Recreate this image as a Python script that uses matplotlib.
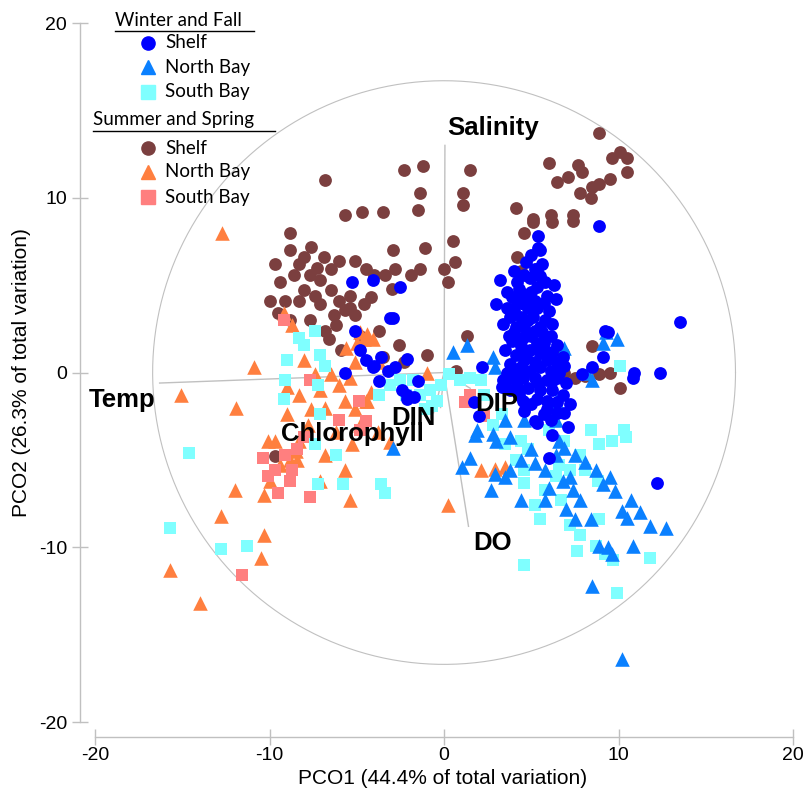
import numpy as np
import matplotlib
matplotlib.use("Agg")
import matplotlib.pyplot as plt
from matplotlib.lines import Line2D

# ---- data (PCO1, PCO2) ----
winter_shelf = [
    (8.9, 8.4), (5.4, 7.1), (5.5, 7.0), (5.2, 5.9), (5.3, 5.9), (3.2, 5.3), (4.2, 5.2), (4.9, 5.4),
    (5.5, 5.5), (5.3, 4.9), (3.9, 4.3), (4.5, 4.5), (5.9, 4.4), (5.7, 4.0), (4.2, 4.0), (4.8, 3.7),
    (5.3, 3.7), (3.8, 3.2), (4.4, 3.2), (5.1, 3.2), (5.8, 3.0), (4.1, 2.6), (4.6, 2.6), (5.5, 2.6),
    (6.1, 2.1), (3.7, 2.1), (4.5, 2.0), (5.0, 2.1), (5.7, 1.7), (4.4, 1.5), (4.9, 1.3), (4.1, 1.0),
    (5.5, 1.1), (6.2, 1.2), (4.6, 0.7), (5.2, 0.6), (5.9, 0.7), (6.5, 0.6), (4.4, 0.3), (4.9, 0.1),
    (5.5, 0.3), (6.1, 0.1), (6.6, 0.0), (3.9, -0.3), (4.5, -0.3), (5.2, -0.3), (5.9, -0.4), (6.5, -0.3),
    (7.0, -0.6), (3.5, -0.6), (4.2, -0.8), (4.8, -0.9), (5.5, -1.0), (6.2, -1.0), (6.5, -1.7), (5.9, -1.6),
    (5.3, -1.5), (6.5, -2.3), (5.2, -2.8), (7.1, -3.1), (6.2, -3.6), (2.2, 0.3), (1.7, -1.7), (2.0, -2.5),
    (3.4, -0.4), (3.3, -0.8), (8.5, 0.3), (9.1, 0.9), (10.9, 0.0), (9.4, 2.3), (13.5, 2.9), (12.4, 0.0),
    (12.2, -6.3), (10.8, -0.3), (9.2, 2.4), (6.0, -4.9), (5.3, -2.9), (5.9, -2.1), (4.7, 6.3), (5.0, 4.6),
    (4.0, 3.6), (5.6, 2.3), (4.3, -1.3), (5.0, -1.8), (6.8, -1.3), (7.9, -0.1), (6.8, 0.9),
    (4.0, 5.8), (4.6, 5.6), (3.6, 4.6), (4.9, 4.2), (5.2, 4.1), (3.6, 3.7), (4.6, 3.9), (6.0, 3.5),
    (3.4, 2.8), (4.8, 3.0), (6.2, 2.8), (3.9, 1.8), (5.3, 1.7), (6.5, 1.6), (3.5, 1.3), (5.8, 1.2),
    (3.8, 0.5), (6.9, 0.4), (3.6, 0.0), (6.2, -0.5), (3.8, -1.0), (4.5, -1.6), (5.7, -2.4), (6.1, -2.7),
    (4.6, -2.2), (7.2, -1.8), (6.9, -2.3), (5.6, 6.2), (5.0, 6.7), (5.4, 7.8), (6.3, 5.0), (3.0, 3.9),
    (6.4, 4.2), (4.3, 4.8), (5.8, 5.2), (4.0, 2.3), (5.2, 2.4), (4.7, 1.0), (5.4, -0.6), (4.1, 0.1),
    (-2.5, 4.9), (-3.1, 3.1), (-4.1, 5.3), (-5.3, 5.2), (-5.1, 2.4), (-4.8, 1.3), (-4.0, 0.4), (-5.7, 0.0),
    (-2.9, 3.1), (-4.5, 0.7), (-4.1, 0.3), (-3.6, 0.9), (-3.2, 0.1), (-2.8, 0.3), (-2.1, 0.8), (-3.7, -0.5),
    (-2.4, -1.0), (-2.1, -1.3), (-1.7, -1.4), (-1.5, -0.5), (-2.1, -1.5),
]
winter_north = [
    (10.2, -16.4), (12.7, -8.9), (11.8, -8.8), (10.2, -7.9), (10.5, -8.3), (8.9, -9.9), (8.5, -12.2),
    (9.4, -10.0), (7.5, -8.4), (7.0, -7.8), (7.8, -7.3), (7.4, -6.7), (6.8, -6.2), (6.0, -6.6), (5.8, -5.6),
    (5.2, -5.2), (4.4, -5.0), (3.5, -6.0), (2.9, -5.8), (2.7, -6.7), (1.5, -4.9), (1.0, -5.4), (1.8, -3.6),
    (3.0, -3.9), (3.8, -3.7), (4.6, -2.7), (6.4, -2.7), (6.6, -3.9), (6.9, -4.3), (7.5, -4.7), (8.1, -5.1),
    (8.7, -5.6), (9.5, -6.0), (9.1, -6.4), (9.8, -6.8), (10.7, -7.3), (11.2, -8.0), (9.3, 2.3), (9.9, 1.9),
    (9.1, 1.7), (6.9, 1.4), (0.5, 1.2), (1.3, 1.6), (2.8, 0.9), (2.9, 0.3), (8.2, 0.0), (8.5, -0.4),
    (1.9, -3.3), (2.8, -3.5), (-2.9, -4.3), (3.8, -5.6), (4.4, -7.3), (6.4, -4.7), (5.8, -7.3), (8.4, -8.4),
    (9.6, -10.4), (10.8, -9.9), (6.4, -1.6), (3.5, -2.7), (7.2, -6.0), (5.0, -4.4),
]
winter_south = [
    (-15.7, -8.9), (-14.6, -4.6), (-12.8, -10.1), (-11.3, -9.9), (-9.0, 0.7), (-9.1, -0.4), (-9.2, -1.5),
    (-8.3, 2.0), (-8.0, 1.6), (-7.4, 2.4), (-7.1, 1.0), (-6.8, 0.4), (-7.2, -0.7), (-7.1, -2.4), (-7.4, -4.1),
    (-6.2, -4.7), (-7.2, -6.4), (-5.8, -6.4), (-3.6, -6.4), (-3.4, -6.9), (-3.7, -1.3), (-1.4, -1.3),
    (-0.8, -1.0), (-0.2, -0.7), (0.3, -0.1), (0.9, -0.4), (-0.7, -1.9), (-1.1, -2.1), (-0.4, -1.6),
    (-1.8, -0.4), (-2.2, -1.3), (1.5, -0.3), (2.1, -0.4), (-2.5, -0.4), (-3.1, -0.7), (2.8, -3.0),
    (3.5, -4.1), (4.1, -5.0), (4.6, -5.6), (4.8, -4.4), (4.6, -6.3), (5.2, -7.6), (5.5, -8.4), (5.8, -6.7),
    (6.4, -5.9), (7.2, -5.6), (7.8, -4.7), (8.1, -5.6), (8.9, -4.1), (10.3, -3.3), (10.4, -3.7), (9.6, -3.9),
    (10.1, 0.4), (8.8, -6.2), (8.9, -8.4), (8.7, -9.9), (9.2, -10.4), (9.7, -10.7), (9.9, -12.6),
    (11.8, -10.6), (7.8, -9.3), (7.2, -8.7), (7.6, -10.2), (4.6, -11.0), (6.6, -5.3), (6.0, -3.3),
    (4.4, -3.9), (6.9, -3.9), (8.4, -3.3), (4.0, -0.3), (2.3, -1.3), (3.3, -2.4), (6.7, -7.3),
]
summer_shelf = [
    (-6.8, 11.0), (-8.8, 8.0), (-5.7, 9.0), (-4.7, 9.2), (-3.5, 9.2), (-2.3, 11.6), (-1.2, 11.8),
    (-1.4, 10.3), (-1.5, 9.3), (-9.7, 6.2), (-8.8, 7.0), (-8.3, 6.2), (-7.7, 5.6), (-9.1, 4.1), (-8.3, 4.1),
    (-7.1, 5.3), (-6.5, 5.9), (-6.0, 6.4), (-5.1, 6.4), (-4.5, 5.9), (-4.0, 5.6), (-3.4, 5.6), (-2.8, 5.9),
    (-1.9, 5.6), (-1.4, 5.9), (-5.4, 4.4), (-5.7, 3.6), (-6.2, 2.7), (-6.8, 2.4), (-4.8, 2.1), (-3.7, 2.4),
    (-7.7, 3.0), (-7.1, 3.9), (-8.8, 3.0), (-8.0, 4.7), (-7.4, 4.4), (-6.5, 4.7), (-6.0, 4.1), (-5.1, 3.3),
    (-5.4, 3.7), (-3.5, 0.9), (-2.6, 1.6), (-1.0, 1.0), (-2.3, 0.6), (-10.0, 4.1), (-9.4, 5.2), (-8.0, 6.6),
    (-6.9, 6.6), (-7.6, 7.2), (0.0, 5.9), (0.5, 7.5), (0.6, 6.3), (0.2, 5.2), (1.3, 2.1), (0.7, 0.1),
    (1.5, 11.6), (1.1, 10.3), (1.1, 9.6), (4.1, 9.4), (5.1, 8.8), (6.1, 9.0), (6.0, 12.0), (6.5, 10.9),
    (7.1, 11.2), (7.7, 11.9), (7.9, 11.5), (7.8, 10.3), (8.4, 10.0), (8.5, 10.6), (7.4, 9.0), (8.9, 13.7),
    (9.6, 12.3), (10.1, 12.6), (10.5, 12.3), (10.5, 11.5), (9.5, 11.1), (8.9, 10.8), (4.6, 8.0), (4.2, 6.6),
    (4.4, 5.8), (5.1, 8.6), (6.2, 8.6), (7.4, 8.7), (8.5, 1.5), (6.8, 1.1), (8.9, -0.1), (9.5, 0.0),
    (10.1, -0.9), (6.9, 0.0), (7.5, -0.3), (8.1, -0.2), (-9.7, -4.8),
    (-7.3, 6.0), (-8.6, 5.6), (-9.5, 3.4), (-6.3, 3.3), (-4.2, 4.3), (-3.0, 4.8), (-4.6, 3.9),
    (-6.6, 1.9), (-5.9, 1.3), (-2.9, 7.0), (-1.1, 7.1),
]
summer_north = [
    (-12.7, 8.0), (-15.1, -1.3), (-15.7, -11.3), (-14.0, -13.2), (-12.8, -8.2), (-11.9, -2.0), (-12.0, -6.7),
    (-10.9, 0.3), (-10.3, -7.0), (-10.0, -6.2), (-10.3, -9.3), (-10.5, -10.6), (-9.2, 3.4), (-8.7, 2.7),
    (-9.0, -0.8), (-8.0, 0.7), (-7.4, -0.1), (-6.5, -0.1), (-5.6, 1.4), (-5.1, 0.6), (-4.8, 2.3), (-4.1, 1.9),
    (-7.6, -2.1), (-7.1, -1.0), (-7.8, -3.0), (-8.3, -3.9), (-8.5, -4.5), (-8.8, -5.0), (-9.7, -3.9),
    (-9.4, -5.3), (-8.4, -5.0), (-7.1, -6.2), (-5.4, -7.3), (-5.7, -5.6), (-5.7, -1.6), (-5.1, -2.1),
    (-4.5, -1.6), (-6.0, -0.7), (-4.2, -1.1), (-4.8, -3.0), (0.2, -7.6), (2.1, -5.6), (3.5, -5.4),
    (2.9, -5.5), (-3.8, -3.4), (-3.7, 0.6), (-6.8, -2.0), (-10.1, -3.9), (-8.3, -1.3), (-9.0, -2.4),
    (-6.2, -3.4), (-5.3, -4.1), (-6.8, -4.7), (-1.0, 0.0), (-4.6, 1.9), (-4.4, 2.2), (-5.0, 1.7),
    (-5.4, -0.3), (-4.4, -1.6), (-3.1, -4.0),
]
summer_south = [
    (-11.6, -11.6), (-9.7, -5.6), (-10.4, -4.9), (-9.5, -6.9), (-7.7, -7.1), (-9.2, 3.0), (-8.7, -5.6),
    (-8.4, -4.4), (-8.0, -3.7), (-8.8, -6.2), (-4.9, -1.6), (-4.8, -3.3), (1.2, -1.7), (1.5, -1.3),
    (-7.7, -0.4), (-6.0, -2.7), (-9.1, -4.7), (-10.1, -5.9), (-4.5, -2.8), (2.3, -2.5),
]

vector_names = ["Salinity", "Temp", "DO", "DIP", "DIN", "Chlorophyll"]
vector_x = [0.05, -16.3, 1.4, 1.5, -0.2, -0.6]
vector_y = [13.0, -0.6, -8.8, -0.9, -2.0, -2.3]
circle_radius = 16.7

plt.rcParams["font.family"] = ["Liberation Sans", "DejaVu Sans"]
plt.rcParams["axes.unicode_minus"] = False

fig = plt.figure(figsize=(8.06, 7.95), dpi=100)
ax = fig.add_axes([0.0993, 0.0733, 0.9007, 0.9166])
ax.set_xlim(-20.86, 20.74)
ax.set_ylim(-20.84, 20.86)

grey = "#c0c0c0"
t = np.linspace(0, 2 * np.pi, 400)
ax.plot(circle_radius * np.cos(t), circle_radius * np.sin(t), color=grey, lw=0.8, zorder=1)
for vx, vy in zip(vector_x, vector_y):
    ax.plot([0, vx], [0, vy], color=grey, lw=1.0, zorder=1)

groups = [
    (summer_shelf, "o", "#7b3f3f", 85),
    (summer_north, "^", "#ff7f3f", 110),
    (summer_south, "s", "#ff7f7f", 75),
    (winter_south, "s", "#7fffff", 75),
    (winter_north, "^", "#0a80ff", 110),
    (winter_shelf, "o", "#0000ff", 85),
]
for pts, mk, col, sz in groups:
    arr = np.array(pts)
    ax.scatter(arr[:, 0], arr[:, 1], marker=mk, s=sz, color=col, linewidths=0, zorder=3)

lab = dict(fontsize=18.5, fontweight="bold", color="black", zorder=5)
ax.text(0.17, 14.0, "Salinity", ha="left", va="center", **lab)
ax.text(-16.55, -1.57, "Temp", ha="right", va="center", **lab)
ax.text(1.66, -9.76, "DO", ha="left", va="center", **lab)
ax.text(1.78, -1.8, "DIP", ha="left", va="center", **lab)
ax.text(-1.78, -2.6, "DIN", ha="center", va="center", **lab)
ax.text(-5.27, -3.5, "Chlorophyll", ha="center", va="center", **lab)

for s in ["top", "right"]:
    ax.spines[s].set_visible(False)
for s in ["left", "bottom"]:
    ax.spines[s].set_color(grey)
    ax.spines[s].set_linewidth(1.0)
ax.spines["left"].set_bounds(-20, 20)
ax.spines["bottom"].set_bounds(-20, 20)
ax.set_xticks([-20, -10, 0, 10, 20])
ax.set_yticks([-20, -10, 0, 10, 20])
ax.tick_params(direction="inout", length=11.5, color=grey, labelsize=14, width=1.0)
ax.tick_params(axis="y", pad=3.5)
ax.tick_params(axis="x", pad=2)
ax.set_xlabel("PCO1 (44.4% of total variation)", fontsize=15, labelpad=3)
ax.set_ylabel("PCO2 (26.3% of total variation)", fontsize=15, labelpad=6)

# legend built by hand
W, H = 806, 795
def fx(px):
    return px / W
def fy(py):
    return 1 - py / H

leg_font = ["Lato", "DejaVu Sans"]
headers = [("Winter and Fall", 115, 254, 20), ("Summer and Spring", 93, 275, 120)]
for txt, x0, x1, yy in headers:
    fig.text(fx(x0), fy(yy), txt, fontsize=13.5, family=leg_font, ha="left", va="center")
    fig.add_artist(Line2D([fx(x0), fx(x1)], [fy(yy + 11), fy(yy + 11)], color="black", lw=1.0))

items = [
    ("Shelf", "o", "#0000ff", 43), ("North Bay", "^", "#0a80ff", 67), ("South Bay", "s", "#7fffff", 92),
    ("Shelf", "o", "#7b3f3f", 148), ("North Bay", "^", "#ff7f3f", 172), ("South Bay", "s", "#ff7f7f", 197),
]
for txt, mk, col, yy in items:
    fig.add_artist(Line2D([fx(148)], [fy(yy)], marker=mk, color=col, markersize=9.5, lw=0))
    fig.text(fx(165), fy(yy), txt, fontsize=13.5, family=leg_font, ha="left", va="center")

fig.savefig("out.png", dpi=100)
